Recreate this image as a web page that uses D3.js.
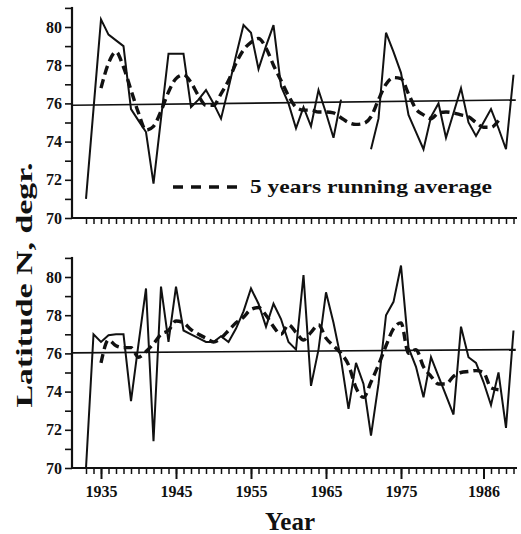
<!DOCTYPE html>
<html>
<head>
<meta charset="UTF-8">
<script src="https://cdnjs.cloudflare.com/ajax/libs/d3/7.8.5/d3.min.js"></script>
<style>
  body { margin: 0; background: #fff; }
  text { font-family: "Liberation Serif", "Times New Roman", serif; font-weight: bold; fill: #111; }
</style>
</head>
<body>
<div id="chart"></div>
<script>
// years on the x axis
var years = [1933,1934,1935,1936,1937,1938,1939,1940,1941,1942,1943,1944,1945,1946,1947,1948,1949,1950,
  1951,1952,1953,1954,1955,1956,1957,1958,1959,1960,1961,1962,1963,1964,1965,1966,1967,1968,1969,1970,
  1971,1972,1973,1974,1975,1976,1977,1978,1979,1980,1981,1982,1983,1984,1985,1986,1987,1988,1989,1990];

// upper panel: yearly latitude and 5 years running average
var topYearly = [71.0,75.7,80.4,79.6,79.3,79.0,75.7,75.1,74.5,71.8,75.2,78.6,78.6,78.6,75.8,76.2,76.7,76.0,
  75.2,76.8,78.5,80.1,79.7,77.8,79.0,80.1,76.9,76.0,74.7,75.8,74.8,76.7,75.5,74.2,76.2,null,null,null,
  73.6,75.2,79.7,78.7,77.6,75.4,74.5,73.6,75.3,76.0,74.2,75.5,76.8,75.0,74.3,75.0,75.7,74.7,73.6,77.5];
var topAverage = [null,null,76.8,78.1,78.7,77.9,76.7,75.5,74.6,74.8,75.6,76.6,77.3,77.5,77.1,76.4,75.9,75.9,
  76.5,77.2,78.1,78.8,79.2,79.4,78.9,78.0,77.2,76.4,75.8,75.65,75.65,75.55,75.55,75.5,75.25,75.0,74.9,74.95,
  75.3,76.2,77.0,77.35,77.3,76.5,75.7,75.4,75.2,75.5,75.55,75.5,75.4,75.3,75.0,74.75,74.75,75.1,null,null];

// lower panel
var bottomYearly = [70.0,77.0,76.6,76.95,77.0,77.0,73.5,76.5,79.4,71.4,79.5,76.6,79.5,77.2,77.0,76.8,76.6,76.6,
  76.9,76.6,77.3,78.2,79.4,78.6,77.4,78.6,77.8,76.6,76.2,80.1,74.3,76.2,79.2,77.6,75.7,73.1,75.5,74.4,
  71.7,74.4,78.0,78.7,80.6,76.3,75.3,73.7,75.8,74.8,73.8,72.8,77.4,75.8,75.5,74.5,73.3,75.0,72.1,77.2];
var bottomAverage = [null,null,75.5,76.7,76.4,76.3,76.3,75.8,76.1,76.5,77.0,77.2,77.7,77.6,77.25,77.0,76.8,76.6,
  76.8,77.2,77.6,77.9,78.3,78.4,78.0,77.4,77.0,77.5,77.1,76.7,77.1,77.5,76.8,76.4,76.0,75.4,74.2,73.7,
  74.5,75.4,76.4,77.3,77.6,76.0,76.2,75.3,74.8,74.4,74.4,74.8,75.0,75.05,75.1,75.0,74.2,74.1,null,null];

// trend lines (start and end)
var trendYears = [1931.2, 1990.3];
var topTrend = [75.9, 76.18];
var bottomTrend = [76.03, 76.2];

var yTicks = [70,71,72,73,74,75,76,77,78,79,80,81];
var yLabels = [70,72,74,76,78,80];
var labelYears = [1935,1945,1955,1965,1975,1986];
var labelText = ["1935","1945","1955","1965","1975","1986"];

var width = 521, height = 534;
var svg = d3.select("#chart").append("svg")
  .attr("width", width)
  .attr("height", height);

var x = d3.scaleLinear().domain([1933, 1990]).range([86, 513.5]);
var xStart = 72, xEnd = 517;

var panels = [
  {yearly: topYearly, avg: topAverage, trend: topTrend, top: 27, bottom: 218, labels: false},
  {yearly: bottomYearly, avg: bottomAverage, trend: bottomTrend, top: 277, bottom: 468, labels: true}
];

panels.forEach(function(p) {
  var y = d3.scaleLinear().domain([70, 80]).range([p.bottom, p.top]);
  var g = svg.append("g");

  // y axis
  var yAxis = d3.axisLeft(y).tickValues(yTicks).tickSize(7)
    .tickFormat(function(d) { return yLabels.indexOf(d) >= 0 ? d : ""; });
  var ya = g.append("g").attr("transform", "translate(" + xStart + ",0)").call(yAxis);
  ya.select(".domain").remove();
  ya.selectAll("line").attr("stroke", "#111").attr("stroke-width", 1.6);
  ya.selectAll("text").attr("font-size", 16).attr("x", -10);
  g.append("line")
    .attr("x1", xStart).attr("x2", xStart)
    .attr("y1", y(81.05)).attr("y2", y(70))
    .attr("stroke", "#111").attr("stroke-width", 2.2);

  // x axis: yearly ticks
  var xa = g.append("g").attr("transform", "translate(0," + p.bottom + ")")
    .call(d3.axisBottom(x).tickValues(years).tickSize(6).tickFormat(""));
  xa.select(".domain").remove();
  xa.selectAll("line").attr("stroke", "#111").attr("stroke-width", 1.5);
  if (p.labels) {
    var xl = g.append("g").attr("transform", "translate(0," + p.bottom + ")")
      .call(d3.axisBottom(x).tickValues(labelYears).tickSize(11)
        .tickFormat(function(d, i) { return labelText[i]; }));
    xl.select(".domain").remove();
    xl.selectAll("line").attr("stroke", "#111").attr("stroke-width", 2);
    xl.selectAll("text").attr("font-size", 16).attr("y", 18);
  }
  g.append("line")
    .attr("x1", xStart).attr("x2", xEnd)
    .attr("y1", p.bottom).attr("y2", p.bottom)
    .attr("stroke", "#111").attr("stroke-width", 2.2);

  // trend line
  g.append("path")
    .datum(trendYears.map(function(d, i) { return [d, p.trend[i]]; }))
    .attr("fill", "none").attr("stroke", "#111").attr("stroke-width", 1.6)
    .attr("d", d3.line().x(function(d) { return x(d[0]); }).y(function(d) { return y(d[1]); }));

  var line = d3.line()
    .defined(function(d) { return d[1] != null; })
    .x(function(d) { return x(d[0]); })
    .y(function(d) { return y(d[1]); });

  // yearly values
  g.append("path")
    .datum(years.map(function(d, i) { return [d, p.yearly[i]]; }))
    .attr("fill", "none").attr("stroke", "#111").attr("stroke-width", 2)
    .attr("stroke-linejoin", "miter")
    .attr("d", line);

  // running average
  g.append("path")
    .datum(years.map(function(d, i) { return [d, p.avg[i]]; }))
    .attr("fill", "none").attr("stroke", "#111").attr("stroke-width", 3.4)
    .attr("stroke-dasharray", "9,5")
    .attr("d", line.curve(d3.curveMonotoneX));
});

// legend
svg.append("line")
  .attr("x1", 173).attr("x2", 238).attr("y1", 187).attr("y2", 187)
  .attr("stroke", "#111").attr("stroke-width", 3.4).attr("stroke-dasharray", "10,8");
svg.append("text")
  .attr("x", 250).attr("y", 193)
  .attr("font-size", 19)
  .attr("textLength", 242).attr("lengthAdjust", "spacingAndGlyphs")
  .text("5 years running average");

// axis titles
svg.append("text")
  .attr("transform", "translate(32,285) rotate(-90)")
  .attr("text-anchor", "middle")
  .attr("font-size", 24)
  .attr("textLength", 245).attr("lengthAdjust", "spacingAndGlyphs")
  .text("Latitude N, degr.");
svg.append("text")
  .attr("x", 290).attr("y", 530)
  .attr("text-anchor", "middle")
  .attr("font-size", 25)
  .text("Year");
</script>
</body>
</html>
